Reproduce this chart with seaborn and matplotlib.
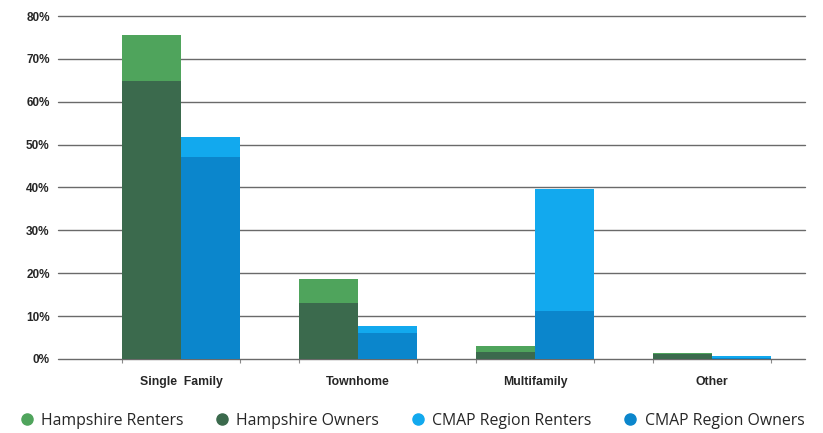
import matplotlib
matplotlib.use("Agg")
import matplotlib.pyplot as plt
from matplotlib.lines import Line2D
from matplotlib.ticker import FixedLocator
import numpy as np
import pandas as pd
import seaborn as sns

# Share of housing units by structure type (%)
categories = ["Single  Family", "Townhome", "Multifamily", "Other"]
regions = ["Hampshire", "CMAP Region"]
hampshire_owners = [64.8, 13.0, 1.7, 1.1]
hampshire_renters = [10.8, 5.6, 1.4, 0.2]
cmap_owners = [47.1, 6.0, 11.2, 0.2]
cmap_renters = [4.6, 1.8, 28.4, 0.6]
y_ticks = [0, 10, 20, 30, 40, 50, 60, 70, 80]

legend_labels = ["Hampshire Renters", "Hampshire Owners", "CMAP Region Renters", "CMAP Region Owners"]
renter_colors = {"Hampshire": "#4fa45c", "CMAP Region": "#12a9ee"}
owner_colors = {"Hampshire": "#3b6a4d", "CMAP Region": "#0b86cc"}

rows = []
for i, cat in enumerate(categories):
    rows.append({"category": cat, "region": "Hampshire",
                 "owners": hampshire_owners[i],
                 "total": hampshire_owners[i] + hampshire_renters[i]})
    rows.append({"category": cat, "region": "CMAP Region",
                 "owners": cmap_owners[i],
                 "total": cmap_owners[i] + cmap_renters[i]})
df = pd.DataFrame(rows)

sns.set_theme(style="white")
fig = plt.figure(figsize=(8.23, 4.33), dpi=100)
ax = fig.add_axes([0.0705, 0.171, 0.9075, 0.792])

# Full-height bars in the renter colour, owner share drawn over them
sns.barplot(data=df, x="category", y="total", hue="region", order=categories,
            hue_order=regions, palette=renter_colors, width=2 / 3, gap=0,
            saturation=1, legend=False, ax=ax, zorder=3)
sns.barplot(data=df, x="category", y="owners", hue="region", order=categories,
            hue_order=regions, palette=owner_colors, width=2 / 3, gap=0,
            saturation=1, legend=False, ax=ax, zorder=4)
for p in ax.patches:
    p.set_linewidth(0)

ax.set_ylim(0, 80)
ax.set_xlim(-0.695, 3.525)
ax.set_yticks(y_ticks)
ax.set_yticklabels([f"{v}%" for v in y_ticks], fontsize=8.5, fontweight="heavy",
                   family="Liberation Sans")
ax.yaxis.grid(True, color="#6a6a6a", linewidth=1.0)
for gl in ax.get_ygridlines():
    gl.set_clip_on(False)
ax.set_axisbelow(True)
ax.tick_params(axis="y", length=0, pad=6)
ax.set_xlabel("")
ax.set_ylabel("")
ax.set_xticks(range(len(categories)))
ax.set_xticklabels(categories, fontsize=8.8, fontweight="heavy", family="Liberation Sans")
edges = [c + d for c in range(len(categories)) for d in (-1 / 3, 0, 1 / 3)]
ax.xaxis.set_minor_locator(FixedLocator(edges))
ax.tick_params(axis="x", which="major", length=0, pad=12)
ax.tick_params(axis="x", which="minor", length=3, color="#8a8a8a", width=0.8, bottom=True)
for s in ax.spines.values():
    s.set_visible(False)

handles = [Line2D([], [], marker="o", linestyle="", markersize=8, color=c)
           for c in [renter_colors["Hampshire"], owner_colors["Hampshire"],
                     renter_colors["CMAP Region"], owner_colors["CMAP Region"]]]
fig.legend(handles, legend_labels, loc="center", bbox_to_anchor=(0.5, 0.028), ncol=4,
           frameon=False, handletextpad=0.4, columnspacing=1.95,
           prop={"family": "Open Sans", "size": 11.4}, handlelength=1.0)

fig.savefig("out.png", dpi=100)
